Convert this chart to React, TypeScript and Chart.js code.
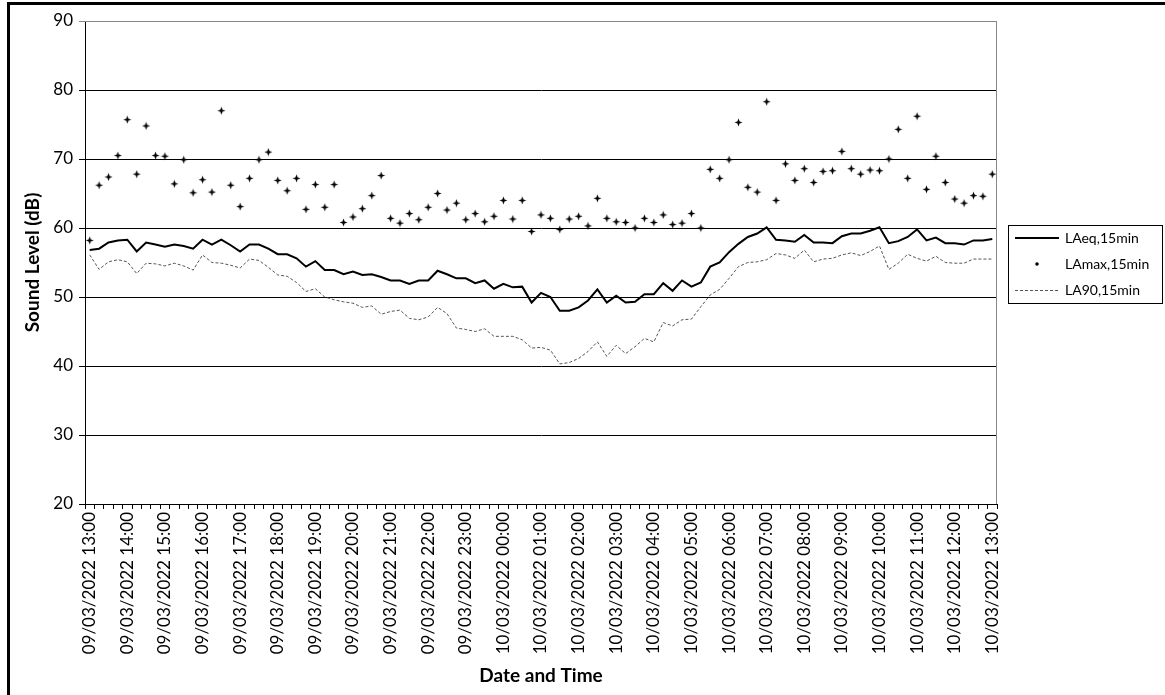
import React, { useEffect, useRef } from "react";
import { Chart, registerables } from "chart.js";
Chart.register(...registerables);

const hourLabels = [
  "09/03/2022 13:00", "09/03/2022 14:00", "09/03/2022 15:00", "09/03/2022 16:00",
  "09/03/2022 17:00", "09/03/2022 18:00", "09/03/2022 19:00", "09/03/2022 20:00",
  "09/03/2022 21:00", "09/03/2022 22:00", "09/03/2022 23:00", "10/03/2022 00:00",
  "10/03/2022 01:00", "10/03/2022 02:00", "10/03/2022 03:00", "10/03/2022 04:00",
  "10/03/2022 05:00", "10/03/2022 06:00", "10/03/2022 07:00", "10/03/2022 08:00",
  "10/03/2022 09:00", "10/03/2022 10:00", "10/03/2022 11:00", "10/03/2022 12:00",
  "10/03/2022 13:00",
];

const quarterSuffix = ["", ":15", ":30", ":45"];

const laeq = [
  56.8, 57.0, 57.9, 58.2, 58.3, 56.6, 57.9, 57.6, 57.3, 57.6,
  57.4, 57.0, 58.3, 57.6, 58.3, 57.5, 56.6, 57.6, 57.6, 57.0,
  56.2, 56.2, 55.6, 54.4, 55.2, 53.9, 53.9, 53.3, 53.7, 53.2,
  53.3, 52.9, 52.4, 52.4, 51.9, 52.4, 52.4, 53.8, 53.3, 52.7,
  52.7, 52.0, 52.4, 51.2, 51.9, 51.4, 51.5, 49.2, 50.6, 50.0,
  48.0, 48.0, 48.5, 49.5, 51.1, 49.2, 50.2, 49.2, 49.3, 50.4,
  50.4, 52.0, 50.9, 52.4, 51.5, 52.1, 54.4, 55.0, 56.5, 57.7,
  58.7, 59.2, 60.1, 58.3, 58.2, 58.0, 59.0, 57.9, 57.9, 57.8,
  58.8, 59.2, 59.2, 59.6, 60.1, 57.8, 58.1, 58.7, 59.8, 58.2,
  58.6, 57.8, 57.8, 57.6, 58.2, 58.2, 58.4,
];

const lamax = [
  58.2, 66.2, 67.4, 70.5, 75.7, 67.8, 74.8, 70.5, 70.4, 66.4,
  69.9, 65.1, 67.0, 65.2, 77.0, 66.2, 63.1, 67.2, 69.9, 71.0,
  66.9, 65.4, 67.2, 62.7, 66.3, 63.0, 66.3, 60.8, 61.6, 62.8,
  64.7, 67.6, 61.4, 60.7, 62.1, 61.2, 63.0, 65.0, 62.6, 63.6,
  61.2, 62.1, 60.9, 61.7, 64.0, 61.3, 64.0, 59.5, 61.9, 61.4,
  59.8, 61.3, 61.7, 60.3, 64.3, 61.4, 60.9, 60.8, 60.0, 61.4,
  60.8, 61.9, 60.5, 60.7, 62.1, 60.0, 68.5, 67.2, 69.9, 75.3,
  65.9, 65.2, 78.3, 64.0, 69.3, 66.9, 68.6, 66.6, 68.2, 68.3,
  71.1, 68.6, 67.8, 68.4, 68.3, 70.0, 74.3, 67.2, 76.2, 65.6,
  70.4, 66.6, 64.2, 63.6, 64.7, 64.6, 67.8,
];

const la90 = [
  56.1, 54.0, 55.1, 55.4, 55.1, 53.4, 54.9, 54.8, 54.5, 54.9,
  54.5, 53.9, 56.1, 55.0, 54.9, 54.6, 54.2, 55.5, 55.3, 54.3,
  53.2, 53.0, 52.1, 50.8, 51.2, 50.0, 49.6, 49.3, 49.1, 48.5,
  48.7, 47.5, 47.9, 48.1, 46.9, 46.7, 47.1, 48.5, 47.6, 45.5,
  45.3, 45.0, 45.4, 44.3, 44.3, 44.3, 43.8, 42.6, 42.7, 42.3,
  40.3, 40.5, 41.1, 42.1, 43.5, 41.4, 43.0, 41.8, 42.8, 44.0,
  43.5, 46.3, 45.8, 46.7, 46.8, 48.6, 50.3, 51.1, 52.7, 54.4,
  55.0, 55.1, 55.4, 56.3, 56.1, 55.6, 56.8, 55.1, 55.5, 55.6,
  56.1, 56.4, 56.0, 56.6, 57.4, 54.0, 54.9, 56.2, 55.6, 55.2,
  55.9, 55.0, 54.9, 54.9, 55.5, 55.5, 55.5,
];

const seriesNames = ["LAeq,15min", "LAmax,15min", "LA90,15min"];
const yMin = 20;
const yMax = 90;
const yStep = 10;
const xTitle = "Date and Time";
const yTitle = "Sound Level (dB)";

const categories = laeq.map((_, i) => {
  const h = hourLabels[Math.floor(i / 4)];
  return i % 4 === 0 ? h : h.slice(0, 13) + quarterSuffix[i % 4];
});

const FONT = "Lato";

function makeStar(): HTMLCanvasElement {
  const c = document.createElement("canvas");
  c.width = 9;
  c.height = 9;
  const g = c.getContext("2d")!;
  g.fillStyle = "#000";
  g.beginPath();
  g.moveTo(4.5, 0.5);
  g.lineTo(5.6, 3.4);
  g.lineTo(8.5, 4.5);
  g.lineTo(5.6, 5.6);
  g.lineTo(4.5, 8.5);
  g.lineTo(3.4, 5.6);
  g.lineTo(0.5, 4.5);
  g.lineTo(3.4, 3.4);
  g.closePath();
  g.fill();
  return c;
}

const framePlugin = {
  id: "frame",
  beforeDraw(chart: any) {
    const ctx = chart.ctx;
    ctx.save();
    ctx.fillStyle = "#fff";
    ctx.fillRect(0, 0, chart.width, chart.height);
    ctx.fillStyle = "#000";
    ctx.fillRect(7, 2, chart.width - 7, 3);
    ctx.fillRect(7, 2, 3, chart.height);
    ctx.restore();
  },
  afterDatasetsDraw(chart: any) {
    const { ctx, chartArea } = chart;
    ctx.save();
    ctx.strokeStyle = "#888";
    ctx.lineWidth = 1;
    ctx.beginPath();
    ctx.moveTo(chartArea.left, chartArea.top + 0.5);
    ctx.lineTo(chartArea.right - 0.5, chartArea.top + 0.5);
    ctx.lineTo(chartArea.right - 0.5, chartArea.bottom);
    ctx.stroke();
    ctx.restore();
  },
  afterDraw(chart: any) {
    const ctx = chart.ctx;
    const bx = 1008.5, by = 225.5, bw = 154, bh = 78;
    ctx.save();
    ctx.strokeStyle = "#000";
    ctx.lineWidth = 1;
    ctx.strokeRect(bx, by, bw, bh);
    ctx.font = `14px ${FONT}`;
    ctx.fillStyle = "#000";
    ctx.textBaseline = "middle";
    const rows = [238, 264, 290];
    const ds = chart.data.datasets;
    ctx.strokeStyle = ds[0].borderColor;
    ctx.lineWidth = ds[0].borderWidth;
    ctx.beginPath();
    ctx.moveTo(1015, rows[0]);
    ctx.lineTo(1059, rows[0]);
    ctx.stroke();
    ctx.beginPath();
    ctx.arc(1037, rows[1], 1.8, 0, Math.PI * 2);
    ctx.fill();
    ctx.strokeStyle = ds[2].borderColor;
    ctx.lineWidth = 1;
    ctx.setLineDash(ds[2].borderDash);
    ctx.beginPath();
    ctx.moveTo(1015, rows[2] + 0.5);
    ctx.lineTo(1059, rows[2] + 0.5);
    ctx.stroke();
    ctx.setLineDash([]);
    seriesNames.forEach((n, i) => ctx.fillText(n, 1065, rows[i]));
    ctx.restore();
  },
};

export default function App() {
  const ref = useRef<HTMLCanvasElement>(null);
  useEffect(() => {
    const star = makeStar();
    const chart = new Chart(ref.current!, {
      type: "line",
      data: {
        labels: categories,
        datasets: [
          {
            label: seriesNames[0],
            data: laeq,
            borderColor: "#000",
            borderWidth: 2,
            pointRadius: 0,
            tension: 0,
            fill: false,
          },
          {
            label: seriesNames[1],
            data: lamax,
            showLine: false,
            pointStyle: star as any,
            pointRadius: 4,
            borderColor: "#000",
            backgroundColor: "#000",
          },
          {
            label: seriesNames[2],
            data: la90,
            borderColor: "#555",
            borderWidth: 1,
            borderDash: [3, 2],
            pointRadius: 0,
            tension: 0,
            fill: false,
          },
        ],
      },
      options: {
        responsive: false,
        animation: false,
        devicePixelRatio: 1,
        layout: { padding: { top: 21, right: 168, left: 0, bottom: 0 } },
        plugins: { legend: { display: false }, tooltip: { enabled: false } },
        scales: {
          x: {
            type: "category",
            offset: true,
            grid: {
              offset: true,
              drawOnChartArea: false,
              drawTicks: true,
              tickLength: 5,
              color: "#000",
            },
            border: { color: "#000", width: 1 },
            ticks: {
              autoSkip: false,
              maxRotation: 90,
              minRotation: 90,
              padding: 3,
              color: "#000",
              font: { family: FONT, size: 17 },
              callback: (_v: any, i: number) => (i % 4 === 0 ? hourLabels[i / 4] : ""),
            },
            title: {
              display: true,
              text: xTitle,
              color: "#000",
              font: { family: FONT, size: 19, weight: "bold" },
              padding: { top: 0, bottom: 8 },
            },
            afterFit: (s: any) => {
              s.height = 191;
            },
          },
          y: {
            min: yMin,
            max: yMax,
            ticks: {
              stepSize: yStep,
              padding: 6,
              color: "#000",
              font: { family: FONT, size: 17 },
            },
            grid: {
              color: (c: any) => (c.tick && c.tick.value === yMax ? "#888" : "#000"),
              tickLength: 6,
            },
            border: { color: "#000", width: 1 },
            title: {
              display: true,
              text: yTitle,
              color: "#000",
              font: { family: FONT, size: 19, weight: "bold" },
              padding: { top: 21, bottom: 0 },
            },
            afterFit: (s: any) => {
              s.width = 85;
            },
          },
        },
      },
      plugins: [framePlugin],
    });
    return () => chart.destroy();
  }, []);
  return (
    <div style={{ position: "fixed", left: 0, top: 0, width: 1165, height: 695, background: "#fff" }}>
      <canvas ref={ref} width={1165} height={695} style={{ display: "block" }} />
    </div>
  );
}
